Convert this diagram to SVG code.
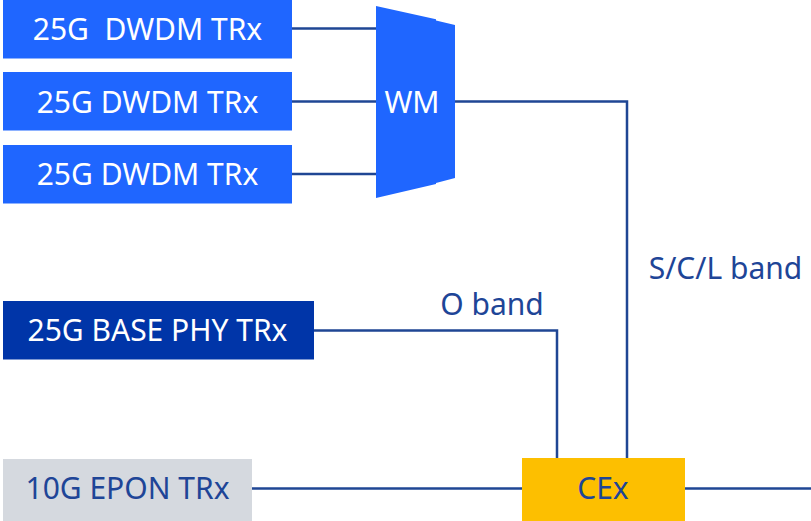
<svg xmlns="http://www.w3.org/2000/svg" width="811" height="521" viewBox="0 0 811 521">
<style>
.lbl{font-family:"Noto Sans","Open Sans",sans-serif;font-size:30px;text-anchor:middle}
.w{fill:#ffffff}
.d{fill:#1e4597}
.bb{fill:#1f66ff}
.ln{fill:none;stroke:#1f4694;stroke-width:2.5}
</style>
<rect width="811" height="521" fill="#ffffff"/>
<g id="connectors">
<line class="ln" x1="292" y1="28.5" x2="377" y2="28.5"/>
<line class="ln" x1="292" y1="101.5" x2="377" y2="101.5"/>
<line class="ln" x1="292" y1="174" x2="377" y2="174"/>
<polyline class="ln" points="454,101.5 627,101.5 627,459"/>
<polyline class="ln" points="314,330.5 557,330.5 557,459"/>
<line class="ln" x1="252" y1="488.5" x2="523" y2="488.5"/>
<line class="ln" x1="684" y1="488.5" x2="811" y2="488.5"/>
</g>
<g id="trx1"><rect class="bb" x="3" y="0" width="289" height="58.5"/><text class="lbl w" x="147.5" y="40" xml:space="preserve" style="white-space:pre">25G  DWDM TRx</text></g>
<g id="trx2"><rect class="bb" x="3" y="72" width="289" height="58.5"/><text class="lbl w" x="147.5" y="112.7">25G DWDM TRx</text></g>
<g id="trx3"><rect class="bb" x="3" y="145" width="289" height="58.5"/><text class="lbl w" x="147.5" y="185">25G DWDM TRx</text></g>
<g id="wm"><polygon class="bb" points="376,6 436,19.3 436,20.5 455,25 455,178 436,183 436,184 376,198"/><text class="lbl w" x="412" y="112.7">WM</text></g>
<g id="base"><rect x="3" y="301" width="311" height="58.5" fill="#0035a8"/><text class="lbl w" x="157.5" y="341">25G BASE PHY TRx</text></g>
<g id="epon"><rect x="3" y="459" width="249" height="62" fill="#d5d9df"/><text class="lbl d" x="127.5" y="499">10G EPON TRx</text></g>
<g id="cex"><rect x="522" y="458" width="163" height="63" fill="#fdbf00"/><text class="lbl d" x="603" y="499">CEx</text></g>
<text class="lbl d" x="492" y="315">O band</text>
<text class="lbl d" x="725.5" y="279">S/C/L band</text>
</svg>
